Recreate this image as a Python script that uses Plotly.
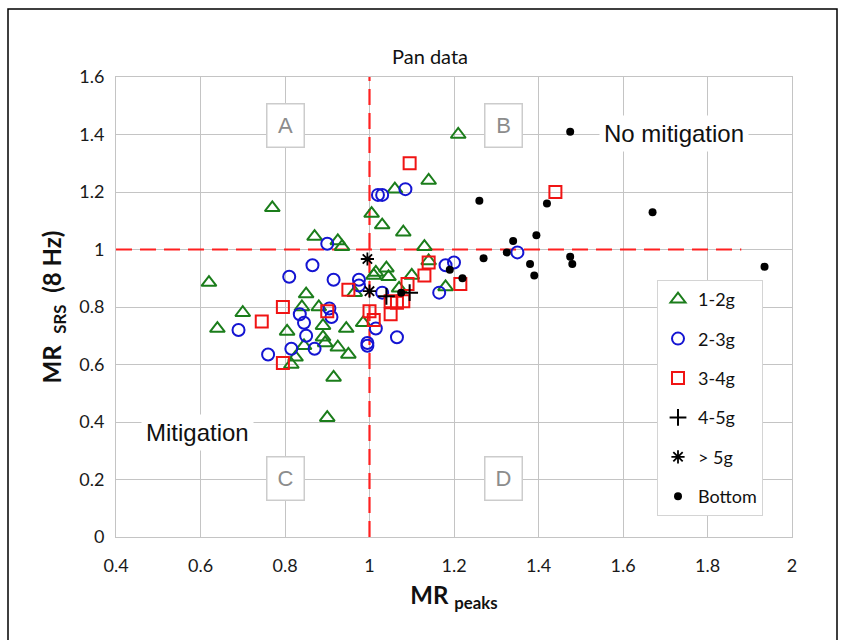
import plotly.graph_objects as go

# ---- data ----
g12_x = [0.62, 0.64, 0.70, 0.77, 0.805, 0.815, 0.825, 0.84, 0.85, 0.845, 0.87, 0.88, 0.89, 0.89, 0.895,
         0.90, 0.915, 0.925, 0.925, 0.935, 0.945, 0.95, 0.965, 0.985, 1.005, 1.01, 1.015, 1.03, 1.04,
         1.045, 1.06, 1.07, 1.08, 1.10, 1.13, 1.14, 1.14, 1.18, 1.21]
g12_y = [0.885, 0.725, 0.78, 1.145, 0.715, 0.60, 0.625, 0.80, 0.845, 0.665, 1.045, 0.80, 0.735, 0.695, 0.675,
         0.415, 0.555, 0.66, 1.03, 1.01, 0.725, 0.635, 0.85, 0.745, 1.125, 0.91, 0.92, 1.085, 0.935,
         0.905, 1.21, 0.865, 1.06, 0.91, 1.01, 1.24, 0.96, 0.87, 1.40]

g23_x = [0.69, 0.76, 0.81, 0.815, 0.835, 0.845, 0.85, 0.865, 0.87, 0.90, 0.905, 0.91, 0.915, 0.975, 0.975,
         0.995, 0.995, 1.015, 1.02, 1.03, 1.03, 1.065, 1.085, 1.165, 1.18, 1.20, 1.35]
g23_y = [0.72, 0.635, 0.905, 0.655, 0.775, 0.745, 0.70, 0.945, 0.655, 1.02, 0.795, 0.765, 0.895, 0.895, 0.875,
         0.675, 0.665, 0.725, 1.19, 1.19, 0.85, 0.695, 1.21, 0.85, 0.945, 0.955, 0.99]

g34_x = [0.745, 0.795, 0.795, 0.90, 0.95, 1.0, 1.01, 1.05, 1.05, 1.065, 1.08, 1.09, 1.095, 1.13, 1.14, 1.215, 1.44]
g34_y = [0.75, 0.80, 0.605, 0.785, 0.86, 0.785, 0.755, 0.775, 0.82, 0.815, 0.82, 0.88, 1.30, 0.91, 0.955, 0.88, 1.20]

g45_x = [1.04, 1.095]
g45_y = [0.837, 0.85]

g5_x = [0.995, 1.0]
g5_y = [0.967, 0.855]

bot_x = [1.075, 1.19, 1.22, 1.26, 1.27, 1.325, 1.34, 1.38, 1.39, 1.395, 1.42, 1.475, 1.475, 1.48, 1.67, 1.935]
bot_y = [0.85, 0.93, 0.90, 1.17, 0.97, 0.99, 1.03, 0.95, 0.91, 1.05, 1.16, 1.41, 0.975, 0.95, 1.13, 0.94]

x_ticks = [0.4, 0.6, 0.8, 1.0, 1.2, 1.4, 1.6, 1.8, 2.0]
x_labels = ["0.4", "0.6", "0.8", "1", "1.2", "1.4", "1.6", "1.8", "2"]
y_ticks = [0, 0.2, 0.4, 0.6, 0.8, 1.0, 1.2, 1.4, 1.6]
y_labels = ["0", "0.2", "0.4", "0.6", "0.8", "1", "1.2", "1.4", "1.6"]

GREEN = "#1b7d1b"
BLUE = "#1414d2"
RED = "#f01414"

fig = go.Figure()

# reference dashed lines
fig.add_trace(go.Scatter(x=[1, 1], y=[0, 1.6], mode="lines", showlegend=False, hoverinfo="skip",
                         line=dict(color="#ff2020", width=2.2, dash="16px,8px")))
fig.add_trace(go.Scatter(x=[0.4, 1.88], y=[1, 1], mode="lines", showlegend=False, hoverinfo="skip",
                         line=dict(color="#ff2020", width=2.2, dash="16px,8px")))

def add(xs, ys, name, symbol, color, size, lw=1.8):
    fig.add_trace(go.Scatter(
        x=xs, y=ys, mode="markers", name=name, legendgroup=name,
        marker=dict(symbol=symbol, size=size, color=color, line=dict(color=color, width=lw))))

add(g12_x, g12_y, "1-2g", "triangle-up-open", GREEN, 13, 2)
add(g23_x, g23_y, "2-3g", "circle-open", BLUE, 12, 2)
add(g34_x, g34_y, "3-4g", "square-open", RED, 12, 2)
add(g45_x, g45_y, "4-5g", "cross-thin-open", "#000000", 12, 2)
add(g5_x, g5_y, "> 5g", "asterisk-open", "#000000", 11, 1.8)
add(bot_x, bot_y, "Bottom", "circle", "#000000", 8, 0)

annos = []
for lab, ax, ay in [("A", 0.80, 1.43), ("B", 1.316, 1.43), ("C", 0.80, 0.205), ("D", 1.316, 0.205)]:
    annos.append(dict(x=ax, y=ay, xref="x", yref="y", text=lab, showarrow=False,
                      font=dict(family="Liberation Sans, Arial", size=22, color="#8c8c8c"),
                      bgcolor="white", bordercolor="#cccccc", borderwidth=1.5, borderpad=2,
                      width=32, height=38))
annos.append(dict(x=1.72, y=1.405, xref="x", yref="y", text="No mitigation", showarrow=False,
                  font=dict(family="Liberation Sans, Arial", size=24, color="#111111"),
                  bgcolor="white", borderpad=4))
annos.append(dict(x=0.592, y=0.365, xref="x", yref="y", text="Mitigation", showarrow=False,
                  font=dict(family="Liberation Sans, Arial", size=24, color="#111111"),
                  bgcolor="white", borderpad=4))
annos.append(dict(x=(430 - 116) / 676, y=(537 - 42) / 460, xref="paper", yref="paper", text="Pan data",
                  showarrow=False, font=dict(family="Lato, Open Sans", size=20, color="#111111")))

axis_common = dict(showgrid=True, gridcolor="#c4c4c4", gridwidth=1, zeroline=False,
                   showline=True, linecolor="#c4c4c4", linewidth=1, mirror=True,
                   ticks="outside", tickcolor="rgba(0,0,0,0)",
                   tickfont=dict(family="Lato, Open Sans", size=18, color="#1a1a1a"))

fig.update_layout(
    width=846, height=640,
    margin=dict(l=116, r=54, t=77, b=103),
    paper_bgcolor="white", plot_bgcolor="white",
    xaxis=dict(range=[0.4, 2.0], tickvals=x_ticks, ticktext=x_labels, ticklen=12,
               title=dict(text="<b>MR <sub>peaks</sub></b>", font=dict(family="Lato, Open Sans", size=24, color="#111111"),
                          standoff=12),
               **axis_common),
    yaxis=dict(range=[0, 1.6], tickvals=y_ticks, ticktext=y_labels, ticklen=7,
               title=dict(text="<b>MR  <sub>SRS</sub>  (8 Hz)</b>", font=dict(family="Lato, Open Sans", size=24, color="#111111"),
                          standoff=10),
               **axis_common),
    showlegend=True,
    legend=dict(x=(657 - 116) / 676, y=(537 - 280) / 460, xanchor="left", yanchor="top",
                bgcolor="white", bordercolor="#d4d4d4", borderwidth=1,
                font=dict(family="Lato, Open Sans", size=18, color="#111111"),
                traceorder="grouped", tracegroupgap=13, itemwidth=30),
    annotations=annos,
    shapes=[dict(type="rect", xref="paper", yref="paper",
                 x0=(8 - 116) / 676, x1=(837 - 116) / 676, y0=(537 - 660) / 460, y1=(537 - 9) / 460,
                 line=dict(color="#000000", width=1.5), fillcolor="rgba(0,0,0,0)", layer="below")],
)

fig.write_html("out.html")
